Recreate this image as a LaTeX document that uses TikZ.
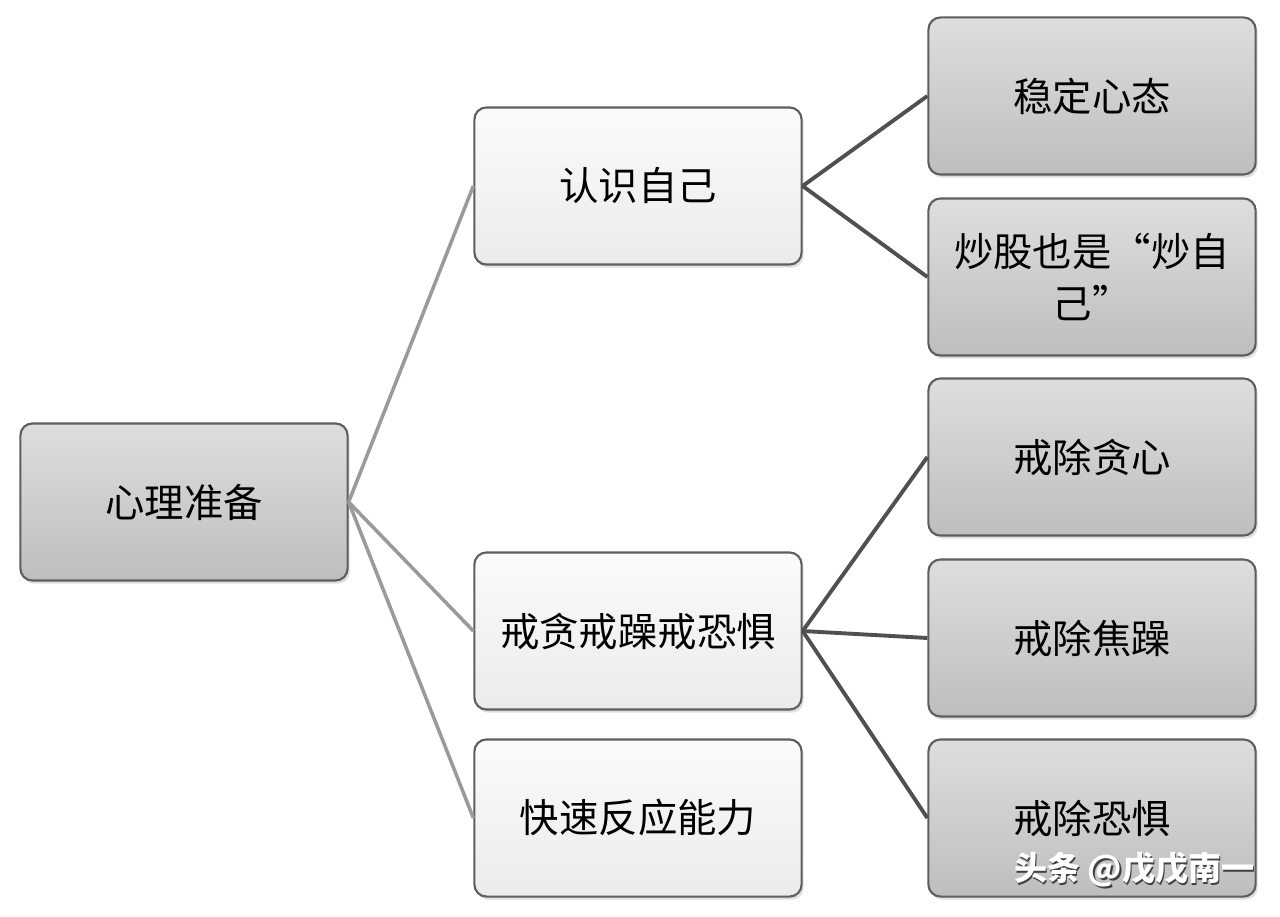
\documentclass[tikz,border=0pt]{standalone}
\usepackage{fontspec}
\setmainfont{Noto Sans CJK SC}
\newfontfamily\cjk{Noto Sans CJK SC}
\usetikzlibrary{shadows}
\definecolor{boxline}{HTML}{5E5E5E}
\definecolor{wtop}{HTML}{FBFBFB}
\definecolor{wbot}{HTML}{EBEBEB}
\definecolor{gtop}{HTML}{DEDEDE}
\definecolor{gbot}{HTML}{BEBEBE}
\definecolor{rootedge}{HTML}{9A9A9A}
\definecolor{subedge}{HTML}{505050}
\tikzset{
  basebox/.style={draw=boxline, line width=0.6pt, rounded corners=0.12cm,
    minimum width=3.27cm, minimum height=1.57cm, inner sep=0pt,
    font=\cjk\fontsize{11.2}{15}\selectfont, text=black, align=center,
    drop shadow={opacity=0.25, shadow xshift=0.6pt, shadow yshift=-0.9pt}},
  whitebox/.style={basebox, top color=wtop, bottom color=wbot},
  graybox/.style={basebox, top color=gtop, bottom color=gbot},
  rootlink/.style={draw=rootedge, line width=1.0pt},
  sublink/.style={draw=subedge, line width=1.1pt},
  wmark/.style={font=\cjk\bfseries\fontsize{9.4}{11}\selectfont, anchor=east, inner sep=0pt},
}
\begin{document}
\begin{tikzpicture}[x=0.01cm, y=-0.01cm]
\useasboundingbox[fill=white] (0,0) rectangle (1280,916);
% nodes
\node[graybox] (root) at (184,502) {心理准备};
\node[whitebox] (know) at (638,186) {认识自己};
\node[whitebox] (quit) at (638,631) {戒贪戒躁戒恐惧};
\node[whitebox] (fast) at (638,818) {快速反应能力};
\node[graybox] (calm) at (1092,96) {稳定心态};
\node[graybox] (self) at (1092,277) {炒股也是“炒自\\己”};
\node[graybox] (greed) at (1092,457) {戒除贪心};
\node[graybox] (anx) at (1092,638) {戒除焦躁};
\node[graybox] (fear) at (1092,818) {戒除恐惧};
% connectors
\draw[rootlink] (root.east) -- (know.west);
\draw[rootlink] (root.east) -- (quit.west);
\draw[rootlink] (root.east) -- (fast.west);
\draw[sublink] (know.east) -- (calm.west);
\draw[sublink] (know.east) -- (self.west);
\draw[sublink] (quit.east) -- (greed.west);
\draw[sublink] (quit.east) -- (anx.west);
\draw[sublink] (quit.east) -- (fear.west);
% watermark
\node[wmark, text=black!75] (wmshadow) at (1256.5,871.5) {头条 @戊戊南一};
\node[wmark, text=white] (wm) at (1255,870) {头条 @戊戊南一};
\end{tikzpicture}
\end{document}
